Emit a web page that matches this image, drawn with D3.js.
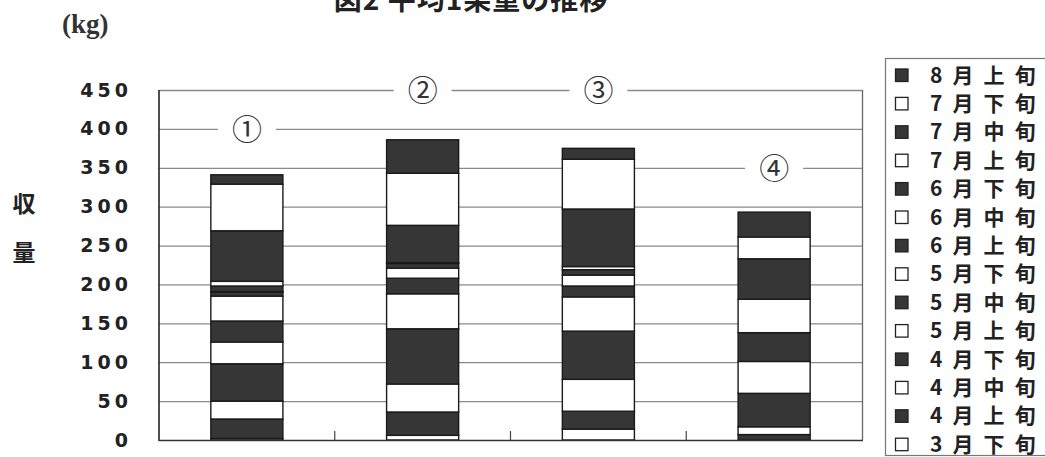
<!DOCTYPE html>
<html lang="ja">
<head>
  <meta charset="UTF-8">
  <title>図2 平均1果重の推移</title>
  <script src="https://d3js.org/d3.v7.min.js"></script>
  <style>
    body { margin: 0; background: #fff; }
    svg { display: block; }
    .jp { font-family: "Noto Sans CJK JP", sans-serif; font-weight: bold; fill: #222; }
    .num { font-family: "DejaVu Sans", sans-serif; font-weight: bold; fill: #222; }
  </style>
</head>
<body>
  <svg width="1045" height="457"></svg>

  <script>
    // stack order from bottom to top
    const periods = ["3月下旬", "4月上旬", "4月中旬", "4月下旬", "5月上旬", "5月中旬", "5月下旬",
                     "6月上旬", "6月中旬", "6月下旬", "7月上旬", "7月中旬", "7月下旬", "8月上旬"];
    const bars = ["①", "②", "③", "④"];
    // yield (kg) per period, one array per bar
    const bar1 = [2, 25, 23, 48, 28, 27, 32, 5, 1, 7, 6, 65, 60, 12];
    const bar2 = [6, 30, 36, 71, 45, 20, 13, 6, 1, 48, 67, 43, 0, 0];
    const bar3 = [14, 23, 41, 62, 44, 14, 14, 7, 4, 74, 64, 14, 0, 0];
    const bar4 = [0, 7, 10, 43, 41, 37, 43, 52, 28, 32, 0, 0, 0, 0];
    // gridline each circled label sits on
    const labelLevel = [400, 450, 450, 350];
    const yTicks = [0, 50, 100, 150, 200, 250, 300, 350, 400, 450];

    const DARK = "#363636";
    const svg = d3.select("svg");
    const plot = {left: 159, right: 862, top: 90, bottom: 440};

    const table = bars.map((b, j) => {
      const row = {bar: b};
      const vals = [bar1, bar2, bar3, bar4][j];
      periods.forEach((p, i) => row[p] = vals[i]);
      return row;
    });
    const stacked = d3.stack().keys(periods)(table);

    const x = d3.scaleBand()
      .domain(bars)
      .range([plot.left, plot.right])
      .paddingInner(0.59)
      .paddingOuter(0.295);

    const y = d3.scaleLinear()
      .domain([0, 450])
      .range([plot.bottom, plot.top]);

    // gridlines
    svg.append("g")
      .selectAll("line")
      .data(yTicks.filter(d => d > 0))
      .join("line")
      .attr("x1", plot.left).attr("x2", plot.right)
      .attr("y1", d => y(d) + 0.5).attr("y2", d => y(d) + 0.5)
      .attr("stroke", "#8a8a8a")
      .attr("stroke-width", 1.3);

    // right border
    svg.append("line")
      .attr("x1", plot.right + 0.5).attr("x2", plot.right + 0.5)
      .attr("y1", y(450)).attr("y2", y(0))
      .attr("stroke", "#666").attr("stroke-width", 1.3);

    // circled labels on the gridlines
    const lab = svg.append("g").selectAll("g")
      .data(bars)
      .join("g")
      .attr("transform", (d, i) => `translate(${x(d) + x.bandwidth() / 2},${y(labelLevel[i])})`);
    lab.append("rect")
      .attr("x", -29).attr("y", -14).attr("width", 58).attr("height", 28)
      .attr("fill", "#fff");
    lab.append("text")
      .attr("text-anchor", "middle")
      .attr("dy", "0.36em")
      .attr("font-family", "Noto Sans CJK JP, sans-serif")
      .attr("font-size", 30)
      .attr("fill", "#333")
      .text(d => d);

    // stacked bars
    svg.append("g")
      .selectAll("g")
      .data(stacked)
      .join("g")
      .attr("fill", (s, i) => i % 2 ? DARK : "#fff")
      .selectAll("rect")
      .data(s => s.filter(d => d[1] - d[0] > 0))
      .join("rect")
      .attr("x", d => x(d.data.bar))
      .attr("width", x.bandwidth())
      .attr("y", d => y(d[1]))
      .attr("height", d => y(d[0]) - y(d[1]))
      .attr("stroke", "#1a1a1a")
      .attr("stroke-width", 1.4);

    // axes lines
    svg.append("line")
      .attr("x1", plot.left).attr("x2", plot.left)
      .attr("y1", y(450)).attr("y2", y(0) + 1)
      .attr("stroke", "#222").attr("stroke-width", 1.6);
    svg.append("line")
      .attr("x1", plot.left).attr("x2", plot.right + 1)
      .attr("y1", y(0) + 0.5).attr("y2", y(0) + 0.5)
      .attr("stroke", "#333").attr("stroke-width", 1.6);

    // x tick marks between categories
    svg.append("g")
      .selectAll("line")
      .data(bars.slice(1))
      .join("line")
      .attr("x1", d => x(d) - x.step() * x.paddingInner() / 2)
      .attr("x2", d => x(d) - x.step() * x.paddingInner() / 2)
      .attr("y1", y(0)).attr("y2", y(0) - 9)
      .attr("stroke", "#444").attr("stroke-width", 1.2);

    // y axis labels
    const yAxis = svg.append("g")
      .attr("transform", `translate(${plot.left},0)`)
      .call(d3.axisLeft(y).tickValues(yTicks).tickSize(0).tickPadding(31));
    yAxis.select(".domain").remove();
    yAxis.selectAll("text")
      .attr("class", "num")
      .attr("font-size", null)
      .style("font-size", "19px")
      .style("letter-spacing", "4px")
      .attr("dx", 4);

    svg.append("text").attr("class", "jp")
      .attr("x", 24).attr("y", 212)
      .attr("text-anchor", "middle")
      .style("font-size", "23px")
      .text("収");
    svg.append("text").attr("class", "jp")
      .attr("x", 24).attr("y", 261)
      .attr("text-anchor", "middle")
      .style("font-size", "23px")
      .text("量");

    svg.append("text")
      .attr("x", 62).attr("y", 33)
      .attr("font-family", "Liberation Serif, serif")
      .attr("font-weight", "bold")
      .attr("font-size", 27)
      .attr("fill", "#333")
      .text("(kg)");

    // title, cut at the top edge as in the source
    svg.append("text").attr("class", "jp")
      .attr("x", 471).attr("y", 10)
      .attr("text-anchor", "middle")
      .style("font-size", "28px")
      .style("letter-spacing", "1px")
      .text("図2 平均1果重の推移");

    // legend
    const legend = svg.append("g");
    legend.append("rect")
      .attr("x", 885.5).attr("y", 58.5).attr("width", 170).attr("height", 397)
      .attr("fill", "#fff").attr("stroke", "#777").attr("stroke-width", 1.2);
    const item = legend.selectAll("g.item")
      .data(periods.slice().reverse())
      .join("g")
      .attr("class", "item")
      .attr("transform", (d, i) => `translate(895,${75 + i * 28.4})`);
    item.append("rect")
      .attr("x", 0.5).attr("y", -6).attr("width", 12.5).attr("height", 12.5)
      .attr("fill", d => periods.indexOf(d) % 2 ? DARK : "#fff")
      .attr("stroke", "#222").attr("stroke-width", 1.3);
    item.append("text").attr("class", "jp")
      .attr("x", 35).attr("dy", "0.36em")
      .style("font-size", "21px")
      .style("letter-spacing", "10px")
      .text(d => d);
  </script>
</body>
</html>
